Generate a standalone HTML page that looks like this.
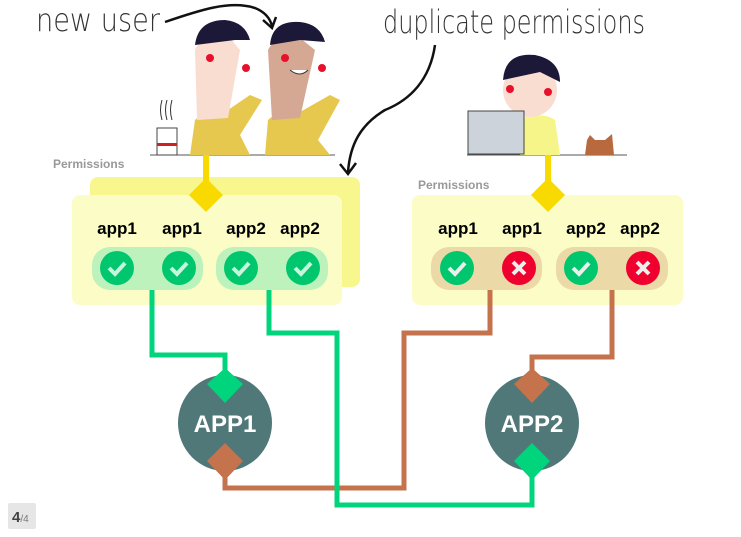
<!DOCTYPE html>
<html><head><meta charset="utf-8"><style>
html,body{margin:0;padding:0;background:#fff;}
svg{display:block;}
text{font-family:"Liberation Sans",sans-serif;}
</style></head><body>
<svg width="741" height="537" viewBox="0 0 741 537" xmlns="http://www.w3.org/2000/svg">
<!-- handwritten labels -->
<text x="36" y="31" font-size="32" fill="#333" style="font-family:'DejaVu Sans',sans-serif;font-weight:200" textLength="124" lengthAdjust="spacingAndGlyphs">new user</text>
<text x="383" y="33" font-size="32" fill="#333" style="font-family:'DejaVu Sans',sans-serif;font-weight:200" textLength="262" lengthAdjust="spacingAndGlyphs">duplicate permissions</text>
<path d="M165 22 C200 10 230 0 255 8 C265 12 270 18 272 26" fill="none" stroke="#111" stroke-width="2.5"/>
<path d="M263 20 L272 28 L276 17" fill="none" stroke="#111" stroke-width="2.5"/>
<path d="M435 45 C430 80 410 100 385 110 C360 125 350 145 348 172" fill="none" stroke="#111" stroke-width="2.5"/>
<path d="M340 164 L348 174 L356 163" fill="none" stroke="#111" stroke-width="2.5"/>

<!-- characters left -->
<line x1="150" y1="155" x2="335" y2="155" stroke="#555" stroke-width="1"/>
<rect x="157" y="128" width="20" height="27" fill="#fff" stroke="#444"/>
<rect x="157" y="143" width="20" height="3" fill="#c22"/>
<path d="M162 120 q-3 -10 0 -20 M167 120 q-3 -10 0 -20 M172 120 q-3 -10 0 -20" stroke="#333" fill="none"/>
<path d="M190 155 L195 120 Q205 110 225 112 L250 95 L262 100 L240 135 L250 155 Z" fill="#e6c84e"/>
<path d="M197 120 L195 50 Q200 35 230 38 L240 50 L228 118 Z" fill="#f9ddd0"/>
<path d="M195 45 Q198 20 225 20 Q245 22 250 40 L235 40 Z" fill="#1c1838"/>
<circle cx="210" cy="58" r="4" fill="#e8102a"/><circle cx="246" cy="68" r="4" fill="#e8102a"/>
<path d="M265 155 L268 120 Q278 110 300 112 L330 95 L340 100 L318 140 L330 155 Z" fill="#e6c84e"/>
<path d="M272 120 L268 50 Q275 35 300 38 L315 50 L300 118 Z" fill="#d4a892"/>
<path d="M270 45 Q272 20 300 22 Q320 24 325 42 L300 40 Z" fill="#1c1838"/>
<circle cx="285" cy="58" r="4" fill="#e8102a"/><circle cx="322" cy="68" r="4" fill="#e8102a"/>
<path d="M290 70 q10 8 18 0" stroke="#333" fill="#fff"/>
<!-- right character -->
<line x1="467" y1="155" x2="627" y2="155" stroke="#555" stroke-width="1"/>
<path d="M520 155 L522 118 Q545 112 555 120 L560 155 Z" fill="#f5f58a"/>
<circle cx="530" cy="90" r="27" fill="#f9ddd0"/>
<path d="M503 80 Q505 52 535 55 Q560 60 560 82 L540 72 Z" fill="#1c1838"/>
<circle cx="510" cy="89" r="4" fill="#e8102a"/><circle cx="548" cy="92" r="4" fill="#e8102a"/>
<rect x="468" y="111" width="56" height="43" fill="#cdd3da" stroke="#444"/>
<path d="M585 155 L587 140 L590 135 L595 140 L605 140 L612 134 L614 155 Z" fill="#b86a3e"/>

<text x="53" y="168" font-size="12" font-weight="bold" fill="#999">Permissions</text>
<text x="418" y="189" font-size="12" font-weight="bold" fill="#999">Permissions</text>

<!-- cards -->
<rect x="90" y="177" width="270" height="110" rx="8" fill="#f7f78d"/>
<rect x="72" y="195" width="270" height="110" rx="8" fill="#fcfcc6"/>
<rect x="412" y="195" width="271" height="110" rx="8" fill="#fcfcc6"/>

<!-- yellow connectors -->
<rect x="203" y="155" width="6" height="30" fill="#f8d900"/>
<path d="M206 178 L223 195 L206 212 L189 195 Z" fill="#f8d900"/>
<rect x="545" y="155" width="6" height="30" fill="#f8d900"/>
<path d="M548 178 L565 195 L548 212 L531 195 Z" fill="#f8d900"/>

<g font-size="17" font-weight="bold" fill="#000" text-anchor="middle">
<text x="117" y="234">app1</text><text x="182" y="234">app1</text><text x="246" y="234">app2</text><text x="300" y="234">app2</text>
<text x="458" y="234">app1</text><text x="522" y="234">app1</text><text x="586" y="234">app2</text><text x="640" y="234">app2</text>
</g>

<rect x="92" y="247" width="111" height="43" rx="18" fill="#bdf2bd"/>
<rect x="216" y="247" width="112" height="43" rx="18" fill="#bdf2bd"/>
<rect x="431" y="247" width="111" height="43" rx="18" fill="#ecd9a8"/>
<rect x="556" y="247" width="112" height="43" rx="18" fill="#ecd9a8"/>

<g id="chk">
<circle cx="117" cy="268" r="17" fill="#00c76e"/><path d="M109 268 l6 6 l10 -11" stroke="#c8f5dc" stroke-width="4" fill="none"/>
<circle cx="179" cy="268" r="17" fill="#00c76e"/><path d="M171 268 l6 6 l10 -11" stroke="#c8f5dc" stroke-width="4" fill="none"/>
<circle cx="241" cy="268" r="17" fill="#00c76e"/><path d="M233 268 l6 6 l10 -11" stroke="#c8f5dc" stroke-width="4" fill="none"/>
<circle cx="303" cy="268" r="17" fill="#00c76e"/><path d="M295 268 l6 6 l10 -11" stroke="#c8f5dc" stroke-width="4" fill="none"/>
<circle cx="457" cy="268" r="17" fill="#00c76e"/><path d="M449 268 l6 6 l10 -11" stroke="#eee" stroke-width="4" fill="none"/>
<circle cx="519" cy="268" r="17" fill="#f0002e"/><path d="M513 262 l12 12 M525 262 l-12 12" stroke="#eee" stroke-width="4"/>
<circle cx="581" cy="268" r="17" fill="#00c76e"/><path d="M573 268 l6 6 l10 -11" stroke="#eee" stroke-width="4" fill="none"/>
<circle cx="643" cy="268" r="17" fill="#f0002e"/><path d="M637 262 l12 12 M649 262 l-12 12" stroke="#eee" stroke-width="4"/>
</g>

<!-- connectors -->
<g fill="none" stroke-width="5">
<path d="M152 290 V355 H225 V385" stroke="#00d47c"/>
<path d="M490 290 V333 H404 V488 H225 V462" stroke="#c4734d"/>
<path d="M612 290 V357 H532 V385" stroke="#c4734d"/>
<path d="M269 290 V333 H337 V505 H532 V462" stroke="#00d47c"/>
</g>

<ellipse cx="225" cy="423" rx="47" ry="48" fill="#507878"/>
<ellipse cx="532" cy="423" rx="47" ry="48" fill="#507878"/>
<path d="M225 368 L243 384 L225 403 L207 384 Z" fill="#00d47c"/>
<path d="M225 443 L243 461 L225 480 L207 461 Z" fill="#c4734d"/>
<path d="M532 368 L550 384 L532 403 L514 384 Z" fill="#c4734d"/>
<path d="M532 443 L550 461 L532 480 L514 461 Z" fill="#00d47c"/>
<text x="225" y="432" font-size="24" font-weight="bold" fill="#fff" text-anchor="middle">APP1</text>
<text x="532" y="432" font-size="24" font-weight="bold" fill="#fff" text-anchor="middle">APP2</text>

<rect x="8" y="503" width="28" height="26" rx="2" fill="#e6e6e6"/>
<text x="12" y="522" font-size="15" font-weight="bold" fill="#444">4<tspan font-size="10" font-weight="normal" fill="#777">/4</tspan></text>
</svg>
</body></html>
